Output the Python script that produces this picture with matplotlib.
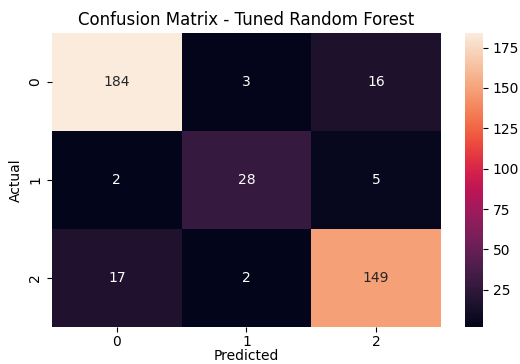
import matplotlib
matplotlib.use("Agg")
import matplotlib.pyplot as plt
import seaborn as sns
import numpy as np

labels = ["0", "1", "2"]
cm = np.array([
    [184, 3, 16],
    [2, 28, 5],
    [17, 2, 149],
])

fig = plt.figure(figsize=(5.2, 3.64), dpi=100)
ax = fig.add_axes([0.1, 0.102, 0.748, 0.807])
cax = fig.add_axes([0.894, 0.102, 0.035, 0.807])
sns.heatmap(cm, annot=True, fmt="d", cmap="rocket", ax=ax, cbar_ax=cax,
            xticklabels=labels, yticklabels=labels)
ax.set_title("Confusion Matrix - Tuned Random Forest")
ax.tick_params(axis="x", pad=2)
ax.set_xlabel("Predicted", labelpad=0)
ax.set_ylabel("Actual")
fig.savefig("out.png", dpi=100)
